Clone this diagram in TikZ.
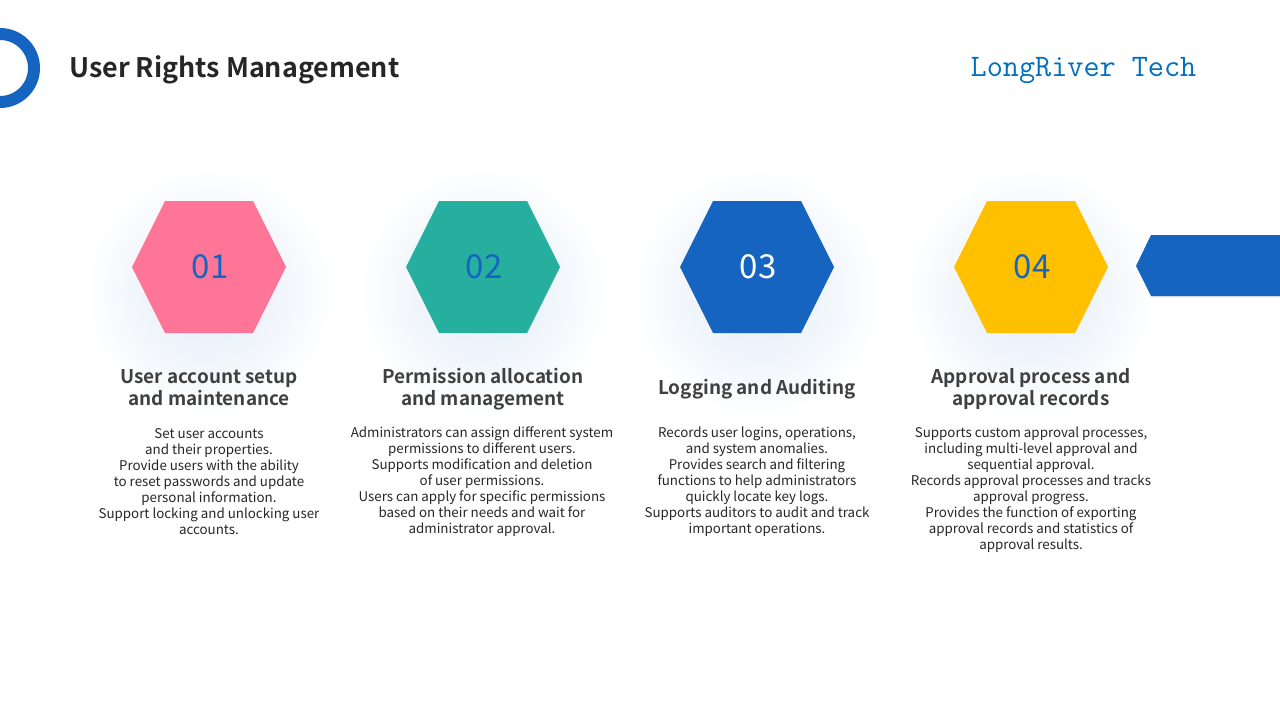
\documentclass[tikz,border=0pt]{standalone}
\usepackage{fontspec}
\setmainfont{Noto Sans CJK SC}[BoldFont={Noto Sans CJK SC Bold}]
\setmonofont{Latin Modern Mono}
\definecolor{blueA}{HTML}{1565C0}
\definecolor{pinkA}{HTML}{FF7597}
\definecolor{tealA}{HTML}{26AE9E}
\definecolor{amberA}{HTML}{FFC000}
\definecolor{ink}{HTML}{262626}
\definecolor{inkB}{HTML}{404040}
\definecolor{brand}{HTML}{0070C0}
\pgfdeclareradialshading{glow}{\pgfpointorigin}{
  color(0bp)=(blueA!10!white); color(8bp)=(blueA!9!white); color(14bp)=(blueA!6!white);
  color(20bp)=(blueA!3!white); color(25bp)=(white); color(50bp)=(white)}
\tikzset{
  x=1pt,y=-1pt,
  numlabel/.style={font=\fontsize{33}{36}\selectfont,inner sep=0pt},
  headlabel/.style={font=\fontsize{18.9}{22}\selectfont\bfseries,text=inkB,align=center,inner sep=0pt},
  bodylabel/.style={font=\fontsize{13.35}{15.95}\selectfont,text=ink,align=center,inner sep=0pt},
}
\newcommand{\hexat}[2]{%
  \fill[#2] (#1-77,267) -- (#1-44,201) -- (#1+44,201) -- (#1+77,267) -- (#1+44,333) -- (#1-44,333) -- cycle;}
\newcommand{\glowat}[1]{%
  \path[shading=glow] (#1,292) circle[radius=125];}
\begin{document}
\begin{tikzpicture}
\useasboundingbox (0,0) rectangle (1280,720);
\fill[white] (0,0) rectangle (1280,720);
\draw[blueA,line width=12pt] (0,68) circle[radius=34];
\node[anchor=west,inner sep=0pt,font=\fontsize{26.9}{32}\selectfont\bfseries,text=ink] (title) at (69,70) {User Rights Management};
\node[anchor=center,inner sep=0pt,font=\fontsize{31.3}{34}\selectfont\ttfamily,text=brand] (brand) at (1083.5,71) {LongRiver Tech};
\glowat{209}\glowat{483}\glowat{757}\glowat{1031}
\hexat{209}{pinkA}\hexat{483}{tealA}\hexat{757}{blueA}\hexat{1031}{amberA}
\fill[black!10] (1137,267) -- (1151.5,236) -- (1281,236) -- (1281,297) -- (1151.5,297) -- cycle;
\fill[blueA] (1136,266) -- (1151,235) -- (1280,235) -- (1280,296) -- (1151,296) -- cycle;
\node[numlabel,text=blueA] (n1) at (210,267) {01};
\node[numlabel,text=blueA] (n2) at (484,267) {02};
\node[numlabel,text=white] (n3) at (758,267) {03};
\node[numlabel,text=blueA] (n4) at (1032,267) {04};
\node[headlabel] (h1) at (209,388) {User account setup\\and maintenance};
\node[headlabel] (h2) at (483,389) {Permission allocation\\and management};
\node[headlabel] (h3) at (757,389) {Logging and Auditing};
\node[headlabel] (h4) at (1031,389) {Approval process and\\approval records};
\node[bodylabel] (b1) at (209,481.5) {Set user accounts\\and their properties.\\Provide users with the ability\\to reset passwords and update\\personal information.\\Support locking and unlocking user\\accounts.};
\node[bodylabel] (b2) at (482,481.8) {Administrators can assign different system\\permissions to different users.\\Supports modification and deletion\\of user permissions.\\Users can apply for specific permissions\\based on their needs and wait for\\administrator approval.};
\node[bodylabel] (b3) at (757,481.8) {Records user logins, operations,\\and system anomalies.\\Provides search and filtering\\functions to help administrators\\quickly locate key logs.\\Supports auditors to audit and track\\important operations.};
\node[bodylabel] (b4) at (1031,490) {Supports custom approval processes,\\including multi-level approval and\\sequential approval.\\Records approval processes and tracks\\approval progress.\\Provides the function of exporting\\approval records and statistics of\\approval results.};
\end{tikzpicture}
\end{document}
